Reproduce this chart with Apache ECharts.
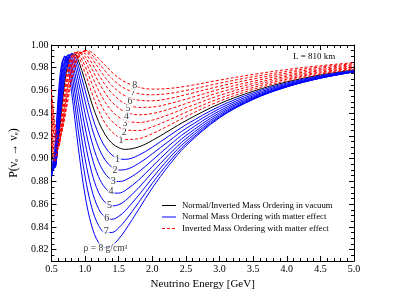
<!DOCTYPE html>
<html>
<head>
<meta charset="utf-8">
<script src="https://cdn.jsdelivr.net/npm/echarts@6/dist/echarts.min.js"></script>
<style>
html,body{margin:0;padding:0;background:#fff;}
#chart{width:399px;height:308px;}
</style>
</head>
<body>
<div id="chart"></div>
<script>
// Neutrino energy grid [GeV]
const energy = [0.5,0.55,0.6,0.65,0.7,0.75,0.8,0.85,0.9,1.0,1.1,1.2,1.3,1.4,1.5,1.6,1.8,2.0,2.25,2.5,3.0,3.5,4.0,4.5,5.0];

// Vacuum (normal/inverted)
const vacuum = [.9058,.8944,.9127,.9418,.9677,.9847,.9921,.9920,.9867,.9685,.9489,.9327,.9211,.9136,.9097,.9082,.9104,.9160,.9247,.9334,.9483,.9593,.9675,.9736,.9781];

// Normal mass ordering with matter effect, rho = 1..8 g/cm3
const normalRho1 = [.8990,.8927,.9157,.9469,.9726,.9876,.9925,.9898,.9820,.9603,.9387,.9217,.9102,.9032,.9001,.8994,.9031,.9101,.9201,.9298,.9460,.9579,.9665,.9729,.9776];
const normalRho2 = [.8950,.8918,.9194,.9524,.9771,.9898,.9918,.9863,.9760,.9508,.9275,.9101,.8987,.8925,.8900,.8904,.8959,.9043,.9156,.9265,.9440,.9565,.9656,.9723,.9771];
const normalRho3 = [.8920,.8920,.9240,.9580,.9813,.9912,.9900,.9814,.9686,.9399,.9152,.8975,.8867,.8813,.8799,.8812,.8885,.8986,.9115,.9233,.9421,.9553,.9648,.9718,.9768];
const normalRho4 = [.8890,.8932,.9292,.9636,.9849,.9915,.9868,.9751,.9598,.9278,.9019,.8843,.8743,.8699,.8697,.8721,.8814,.8931,.9075,.9203,.9404,.9543,.9642,.9714,.9766];
const normalRho5 = [.8870,.8954,.9350,.9692,.9877,.9906,.9822,.9673,.9494,.9147,.8878,.8705,.8615,.8584,.8595,.8631,.8746,.8879,.9037,.9176,.9389,.9535,.9637,.9711,.9764];
const normalRho6 = [.8850,.8987,.9412,.9744,.9895,.9883,.9762,.9580,.9376,.9002,.8727,.8562,.8484,.8467,.8492,.8543,.8680,.8829,.9003,.9152,.9376,.9528,.9634,.9709,.9763];
const normalRho7 = [.8840,.9029,.9476,.9790,.9903,.9846,.9684,.9470,.9243,.8846,.8570,.8415,.8351,.8351,.8391,.8456,.8617,.8783,.8971,.9130,.9366,.9524,.9632,.9708,.9763];
const normalRho8 = [.8830,.9081,.9541,.9830,.9898,.9793,.9589,.9343,.9095,.8679,.8407,.8264,.8218,.8236,.8293,.8372,.8556,.8742,.8943,.9113,.9359,.9521,.9631,.9709,.9764];

// Inverted mass ordering with matter effect, rho = 1..8 g/cm3
const invertedRho1 = [.9132,.8971,.9106,.9371,.9628,.9811,.9908,.9932,.9902,.9756,.9581,.9428,.9312,.9236,.9190,.9169,.9176,.9220,.9293,.9371,.9506,.9609,.9686,.9744,.9787];
const invertedRho2 = [.9205,.9006,.9094,.9330,.9579,.9773,.9888,.9933,.9925,.9814,.9662,.9520,.9408,.9330,.9280,.9253,.9248,.9280,.9341,.9408,.9530,.9626,.9698,.9753,.9794];
const invertedRho3 = [.9281,.9048,.9090,.9295,.9533,.9731,.9860,.9926,.9938,.9862,.9732,.9603,.9496,.9418,.9366,.9334,.9318,.9339,.9388,.9447,.9556,.9644,.9711,.9762,.9801];
const invertedRho4 = [.9354,.9096,.9095,.9266,.9490,.9688,.9829,.9911,.9941,.9898,.9792,.9677,.9577,.9499,.9445,.9410,.9386,.9397,.9435,.9485,.9583,.9662,.9724,.9773,.9809];
const invertedRho5 = [.9424,.9151,.9109,.9245,.9450,.9645,.9793,.9890,.9936,.9925,.9842,.9741,.9650,.9575,.9521,.9483,.9451,.9454,.9483,.9524,.9610,.9681,.9738,.9783,.9818];
const invertedRho6 = [.9492,.9208,.9130,.9231,.9415,.9604,.9757,.9864,.9924,.9942,.9882,.9798,.9714,.9644,.9590,.9552,.9514,.9509,.9529,.9563,.9637,.9701,.9753,.9795,.9827];
const invertedRho7 = [.9553,.9267,.9159,.9226,.9385,.9565,.9719,.9834,.9907,.9950,.9913,.9844,.9771,.9706,.9654,.9615,.9572,.9562,.9574,.9600,.9664,.9721,.9768,.9807,.9836];
const invertedRho8 = [.9610,.9329,.9193,.9227,.9362,.9528,.9680,.9802,.9884,.9952,.9936,.9883,.9821,.9761,.9712,.9673,.9628,.9612,.9618,.9637,.9691,.9741,.9784,.9818,.9845];

// Curve labels (text anchors in data coordinates)
const normalLabelText = ['1','2','3','4','5','6','7','ρ = 8 g/cm³'];
const normalLabelE = [1.484,1.446,1.421,1.387,1.363,1.323,1.314,1.304];
const normalLabelP = [.8996,.8900,.8803,.8709,.8592,.8474,.8357,.8213];
const invertedLabelText = ['1','2','3','4','5','6','7','8'];
const invertedLabelE = [1.534,1.582,1.596,1.615,1.640,1.670,1.718,1.738];
const invertedLabelP = [.9158,.9232,.9309,.9369,.9443,.9507,.9580,.9642];

const xTicks = [0.5,1.0,1.5,2.0,2.5,3.0,3.5,4.0,4.5,5.0];
const yTicks = [0.82,0.84,0.86,0.88,0.90,0.92,0.94,0.96,0.98,1.00];

const nameVac = 'Normal/Inverted Mass Ordering in vacuum';
const nameNMO = 'Normal Mass Ordering with matter effect';
const nameIMO = 'Inverted Mass Ordering with matter effect';

const normalSets = [normalRho1,normalRho2,normalRho3,normalRho4,normalRho5,normalRho6,normalRho7,normalRho8];
const invertedSets = [invertedRho1,invertedRho2,invertedRho3,invertedRho4,invertedRho5,invertedRho6,invertedRho7,invertedRho8];

const SERIF = '"Liberation Serif","DejaVu Serif",serif';
const pair = arr => energy.map((e,i)=>[e,arr[i]]);

const BLUE = '#0000ff', RED = '#ff0000';
const series = [];
series.push({name:nameVac,type:'line',data:pair(vacuum),showSymbol:false,symbol:'none',smooth:0.35,
  lineStyle:{color:'#000',width:1},color:'#000',z:3});
normalSets.forEach(arr=>series.push({name:nameNMO,type:'line',data:pair(arr),showSymbol:false,symbol:'none',smooth:0.35,
  lineStyle:{color:BLUE,width:1},color:BLUE,z:3}));
invertedSets.forEach(arr=>series.push({name:nameIMO,type:'line',data:pair(arr),showSymbol:false,symbol:'none',smooth:0.35,
  lineStyle:{color:RED,width:1,type:[3,2]},color:RED,z:3}));

function labelSeries(texts, es, ps){
  return {type:'scatter',name:'labels',silent:true,symbolSize:1,itemStyle:{color:'rgba(0,0,0,0)'},z:6,
    data:texts.map((t,i)=>({value:[es[i],ps[i]],name:t,
      label:{fontSize: t.length>1 ? 9.5 : 10}})),
    labelLayout:{hideOverlap:false},
    label:{show:true,position:'inside',formatter:'{b}',color:'#000',fontFamily:SERIF,fontSize:10,
      backgroundColor:'#fff',padding:[0,1],textBorderWidth:0}};
}
series.push(labelSeries(normalLabelText,normalLabelE,normalLabelP));
series.push(labelSeries(invertedLabelText,invertedLabelE,invertedLabelP));

const axisCommon = {
  axisLine:{show:true,onZero:false,lineStyle:{color:'#000',width:1}},
  axisTick:{show:true,inside:true,length:5,lineStyle:{color:'#000',width:1}},
  splitLine:{show:false}
};

// Legend drawn as graphic entries
const legendRows = [
  {name:nameVac,color:'#000',dash:null,y:205.5},
  {name:nameNMO,color:BLUE,dash:null,y:217},
  {name:nameIMO,color:RED,dash:[3,2],y:228.5}
];
const graphics = [{type:'text',left:293,top:52,z:20,style:{text:'L = 810 km',font:'9px '+SERIF,fill:'#000'}}];
legendRows.forEach(r=>{
  graphics.push({type:'line',z:20,shape:{x1:162,y1:r.y,x2:176,y2:r.y},
    style:{stroke:r.color,lineWidth:1,lineDash:r.dash}});
  graphics.push({type:'text',z:20,x:182,y:r.y,style:{text:r.name,font:'8.7px '+SERIF,fill:'#000',textVerticalAlign:'middle',verticalAlign:'middle'}});
});

const chart = echarts.init(document.getElementById('chart'),null,{renderer:'canvas'});
chart.setOption({
  animation:false,
  backgroundColor:'#fff',
  grid:{left:46,right:45,top:45,bottom:47,containLabel:false},
  graphic:graphics,
  xAxis:[
    Object.assign({type:'value',position:'bottom',min:xTicks[0],max:xTicks[xTicks.length-1],interval:0.5,
      minorTick:{show:true,splitNumber:5,length:3,lineStyle:{color:'#000'}},
      axisLabel:{formatter:v=>v.toFixed(1),fontFamily:SERIF,fontSize:10,color:'#000',margin:3},
      name:'Neutrino Energy [GeV]',nameLocation:'middle',nameGap:15,
      nameTextStyle:{fontFamily:SERIF,fontSize:11,color:'#000'}},axisCommon),
    Object.assign({type:'value',position:'top',min:xTicks[0],max:xTicks[xTicks.length-1],interval:0.5,
      minorTick:{show:true,splitNumber:5,length:3,lineStyle:{color:'#000'}},
      axisLabel:{show:false}},axisCommon)
  ],
  yAxis:[
    Object.assign({type:'value',position:'left',min:0.81,max:yTicks[yTicks.length-1],splitNumber:10,
      minorTick:{show:true,splitNumber:4,length:3,lineStyle:{color:'#000'}},
      axisLabel:{formatter:v=>v.toFixed(2),fontFamily:SERIF,fontSize:10,color:'#000',margin:3,showMinLabel:false},
      name:'P(νₑ → νₑ)',nameLocation:'middle',nameGap:28,nameRotate:90,
      nameTextStyle:{fontFamily:SERIF,fontSize:12,color:'#000'}},axisCommon),
    Object.assign({type:'value',position:'right',min:0.81,max:yTicks[yTicks.length-1],splitNumber:10,
      minorTick:{show:true,splitNumber:4,length:3,lineStyle:{color:'#000'}},
      axisLabel:{show:false}},axisCommon)
  ],
  series:series
});
</script>
</body>
</html>
